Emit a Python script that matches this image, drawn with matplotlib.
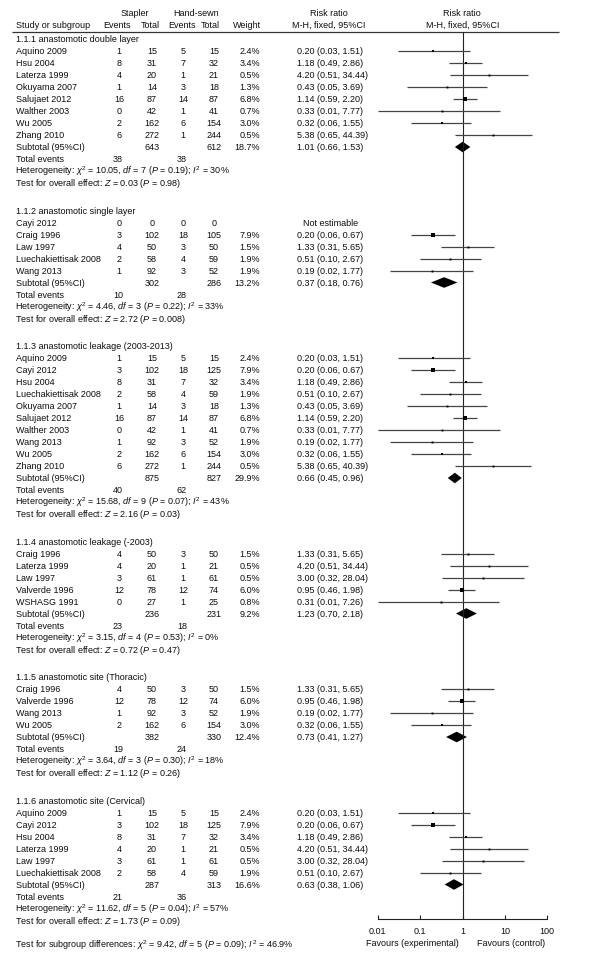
import numpy as np
import matplotlib
matplotlib.use("Agg")
import matplotlib.pyplot as plt
from matplotlib.ticker import NullLocator

plt.rcParams['font.family'] = ['Liberation Sans', 'DejaVu Sans']
plt.rcParams['mathtext.fontset'] = 'custom'
plt.rcParams['mathtext.rm'] = 'Liberation Sans'
plt.rcParams['mathtext.it'] = 'Liberation Sans:italic'
plt.rcParams['mathtext.bf'] = 'Liberation Sans:bold'

# ---------------- data ----------------
group_titles = [
    "1.1.1 anastomotic double layer",
    "1.1.2 anastomotic single layer",
    "1.1.3 anastomotic leakage (2003-2013)",
    "1.1.4 anastomotic leakage (-2003)",
    "1.1.5 anastomotic site (Thoracic)",
    "1.1.6 anastomotic site (Cervical)",
]
study_group = [0] * 8 + [1] * 5 + [2] * 10 + [3] * 5 + [4] * 4 + [5] * 6
study_names = [
    "Aquino 2009", "Hsu 2004", "Laterza 1999", "Okuyama 2007", "Salujaet 2012",
    "Walther 2003", "Wu 2005", "Zhang 2010",
    "Cayi 2012", "Craig 1996", "Law 1997", "Luechakiettisak 2008", "Wang 2013",
    "Aquino 2009", "Cayi 2012", "Hsu 2004", "Luechakiettisak 2008", "Okuyama 2007",
    "Salujaet 2012", "Walther 2003", "Wang 2013", "Wu 2005", "Zhang 2010",
    "Craig 1996", "Laterza 1999", "Law 1997", "Valverde 1996", "WSHASG 1991",
    "Craig 1996", "Valverde 1996", "Wang 2013", "Wu 2005",
    "Aquino 2009", "Cayi 2012", "Hsu 2004", "Laterza 1999", "Law 1997",
    "Luechakiettisak 2008",
]
stapler_events = [1, 8, 4, 1, 16, 0, 2, 6,
                  0, 3, 4, 2, 1,
                  1, 3, 8, 2, 1, 16, 0, 1, 2, 6,
                  4, 4, 3, 12, 0,
                  4, 12, 1, 2,
                  1, 3, 8, 4, 3, 2]
stapler_total = [15, 31, 20, 14, 87, 42, 162, 272,
                 0, 102, 50, 58, 92,
                 15, 102, 31, 58, 14, 87, 42, 92, 162, 272,
                 50, 20, 61, 78, 27,
                 50, 78, 92, 162,
                 15, 102, 31, 20, 61, 58]
handsewn_events = [5, 7, 1, 3, 14, 1, 6, 1,
                   0, 18, 3, 4, 3,
                   5, 18, 7, 4, 3, 14, 1, 3, 6, 1,
                   3, 1, 1, 12, 1,
                   3, 12, 3, 6,
                   5, 18, 7, 1, 1, 4]
handsewn_total = [15, 32, 21, 18, 87, 41, 154, 244,
                  0, 105, 50, 59, 52,
                  15, 125, 32, 59, 18, 87, 41, 52, 154, 244,
                  50, 21, 61, 74, 25,
                  50, 74, 52, 154,
                  15, 125, 32, 21, 61, 59]
weights = [2.4, 3.4, 0.5, 1.3, 6.8, 0.7, 3.0, 0.5,
           np.nan, 7.9, 1.5, 1.9, 1.9,
           2.4, 7.9, 3.4, 1.9, 1.3, 6.8, 0.7, 1.9, 3.0, 0.5,
           1.5, 0.5, 0.5, 6.0, 0.8,
           1.5, 6.0, 1.9, 3.0,
           2.4, 7.9, 3.4, 0.5, 0.5, 1.9]
rr = [0.20, 1.18, 4.20, 0.43, 1.14, 0.33, 0.32, 5.38,
      np.nan, 0.20, 1.33, 0.51, 0.19,
      0.20, 0.20, 1.18, 0.51, 0.43, 1.14, 0.33, 0.19, 0.32, 5.38,
      1.33, 4.20, 3.00, 0.95, 0.31,
      1.33, 0.95, 0.19, 0.32,
      0.20, 0.20, 1.18, 4.20, 3.00, 0.51]
rr_lo = [0.03, 0.49, 0.51, 0.05, 0.59, 0.01, 0.06, 0.65,
         np.nan, 0.06, 0.31, 0.10, 0.02,
         0.03, 0.06, 0.49, 0.10, 0.05, 0.59, 0.01, 0.02, 0.06, 0.65,
         0.31, 0.51, 0.32, 0.46, 0.01,
         0.31, 0.46, 0.02, 0.06,
         0.03, 0.06, 0.49, 0.51, 0.32, 0.10]
rr_hi = [1.51, 2.86, 34.44, 3.69, 2.20, 7.77, 1.55, 44.39,
         np.nan, 0.67, 5.65, 2.67, 1.77,
         1.51, 0.67, 2.86, 2.67, 3.69, 2.20, 7.77, 1.77, 1.55, 40.39,
         5.65, 34.44, 28.04, 1.98, 7.26,
         5.65, 1.98, 1.77, 1.55,
         1.51, 0.67, 2.86, 34.44, 28.04, 2.67]

sub_stapler_total = [643, 302, 875, 236, 382, 287]
sub_handsewn_total = [612, 286, 827, 231, 330, 313]
sub_weight = [18.7, 13.2, 29.9, 9.2, 12.4, 16.6]
sub_rr = [1.01, 0.37, 0.66, 1.23, 0.73, 0.63]
sub_lo = [0.66, 0.18, 0.45, 0.70, 0.41, 0.38]
sub_hi = [1.53, 0.76, 0.96, 2.18, 1.27, 1.06]
events_stapler = [38, 10, 40, 23, 19, 21]
events_handsewn = [38, 28, 62, 18, 24, 36]
het_chi2 = ["10.05", "4.46", "15.68", "3.15", "3.64", "11.62"]
het_df = [7, 3, 9, 4, 3, 5]
het_p = ["0.19", "0.22", "0.07", "0.53", "0.30", "0.04"]
het_i2 = [30, 33, 43, 0, 18, 57]
z_value = ["0.03", "2.72", "2.16", "0.72", "1.12", "1.73"]
z_p = ["0.98", "0.008", "0.03", "0.47", "0.26", "0.09"]
diff_chi2, diff_df, diff_p, diff_i2 = "9.42", 5, "0.09", "46.9"
axis_ticks = [0.01, 0.1, 1, 10, 100]
axis_tick_labels = ["0.01", "0.1", "1", "10", "100"]

# ---------------- layout ----------------
W, H = 600, 957
FS = 6.5
TXT = "#0d0d0d"
X_NAME, X_SE, X_ST, X_HE, X_HT, X_W, X_RR, X_RRC = 16, 119, 152, 183, 214, 260, 297, 329
PX_L, PX_R = 377.7, 547.3
Y_TOP, Y_BOT = 32.3, 919.3
ROW, GAP = 12.0, 27.5
BASE = 3.3     # baseline offset below the visual row centre

fig = plt.figure(figsize=(W / 100, H / 100), dpi=100)
tx = fig.add_axes([0, 0, 1, 1])
tx.set_xlim(0, W)
tx.set_ylim(H, 0)
tx.axis("off")

fx = fig.add_axes([PX_L / W, 1 - Y_BOT / H, (PX_R - PX_L) / W, (Y_BOT - Y_TOP) / H])
fx.set_xscale("log")
fx.set_xlim(0.01, 100)
fx.set_ylim(Y_BOT, Y_TOP)
fx.patch.set_alpha(0)
for s in ["left", "right", "top"]:
    fx.spines[s].set_visible(False)
fx.spines["bottom"].set_linewidth(0.8)
fx.spines["bottom"].set_color("#222222")
fx.set_yticks([])
fx.set_xticks(axis_ticks)
fx.set_xticklabels(axis_tick_labels)
fx.xaxis.set_minor_locator(NullLocator())
fx.tick_params(axis="x", direction="in", length=3, width=0.8, labelsize=FS,
               pad=5.5, colors="#222222", labelcolor=TXT)
fx.axvline(1, color="#222222", lw=0.8)


def t(x, y, s, ha="left", **kw):
    tx.text(x, y + BASE, s, ha=ha, va="baseline", fontsize=FS, color=TXT, **kw)


def tm(x, y, s):
    # mathtext lines carry a small left bearing; nudge to align with plain text
    tx.text(x - 0.8, y + BASE, s, ha="left", va="baseline", fontsize=FS, color=TXT)


# headers
t(135, 12.7, "Stapler", ha="center")
t(196, 12.7, "Hand-sewn", ha="center")
t(X_RRC, 12.7, "Risk ratio", ha="center")
t(462.3, 12.7, "Risk ratio", ha="center")
t(X_NAME, 25, "Study or subgroup")
t(117, 25, "Events", ha="center")
t(150, 25, "Total", ha="center")
t(182, 25, "Events", ha="center")
t(210, 25, "Total", ha="center")
t(247, 25, "Weight", ha="center")
t(X_RRC, 25, "M-H, fixed, 95%CI", ha="center")
t(462.3, 25, "M-H, fixed, 95%CI", ha="center")
tx.plot([12, 559], [Y_TOP, Y_TOP], color="#333333", lw=0.9, solid_capstyle="butt")

y = 39.0
last_test_y = y
for g in range(len(group_titles)):
    t(X_NAME, y, group_titles[g])
    y += ROW
    for i in [k for k, gg in enumerate(study_group) if gg == g]:
        t(X_NAME, y, study_names[i])
        t(X_SE, y, str(stapler_events[i]), ha="center")
        t(X_ST, y, str(stapler_total[i]), ha="center")
        t(X_HE, y, str(handsewn_events[i]), ha="center")
        t(X_HT, y, str(handsewn_total[i]), ha="center")
        if np.isnan(rr[i]):
            t(331, y, "Not estimable", ha="center")
        else:
            t(X_W, y, f"{weights[i]:.1f}%", ha="right")
            t(X_RR, y, f"{rr[i]:.2f} ({rr_lo[i]:.2f}, {rr_hi[i]:.2f})")
            fx.hlines(y, rr_lo[i], rr_hi[i], color="#444444", lw=0.9)
            side = max(1.9, 1.35 * np.sqrt(weights[i]))
            fx.plot([rr[i]], [y], marker="s", ms=side * 0.72, color="black",
                    mec="black", mew=0, linestyle="none")
        y += ROW
    # subtotal
    t(X_NAME, y, "Subtotal (95%CI)")
    t(X_ST, y, str(sub_stapler_total[g]), ha="center")
    t(X_HT, y, str(sub_handsewn_total[g]), ha="center")
    t(X_W, y, f"{sub_weight[g]:.1f}%", ha="right")
    t(X_RR, y, f"{sub_rr[g]:.2f} ({sub_lo[g]:.2f}, {sub_hi[g]:.2f})")
    hh = 5.3
    fx.fill([sub_lo[g], sub_rr[g], sub_hi[g], sub_rr[g]], [y, y - hh, y, y + hh],
            color="black", lw=0)
    y += ROW
    t(X_NAME, y, "Total events")
    t(X_SE - 1, y, str(events_stapler[g]), ha="center")
    t(X_HE - 1, y, str(events_handsewn[g]), ha="center")
    y += ROW
    tm(X_NAME, y, r"Heterogeneity: $\chi^2$ = " + het_chi2[g] + r", $df$ = " + str(het_df[g])
       + r" ($P$ = " + het_p[g] + r"); $I^2$ = " + str(het_i2[g]) + "%")
    y += ROW
    tm(X_NAME, y, r"Test for overall effect: $Z$ = " + z_value[g] + r" ($P$ = " + z_p[g] + ")")
    last_test_y = y
    y += GAP

tm(X_NAME, last_test_y + 24, r"Test for subgroup differences: $\chi^2$ = " + diff_chi2
   + r", $df$ = " + str(diff_df) + r" ($P$ = " + diff_p + r"); $I^2$ = " + diff_i2 + "%")

t(459, 942.7, "Favours (experimental)", ha="right")
t(511.5, 942.7, "Favours (control)", ha="center")

fig.savefig("out.png", dpi=100, facecolor="white")
